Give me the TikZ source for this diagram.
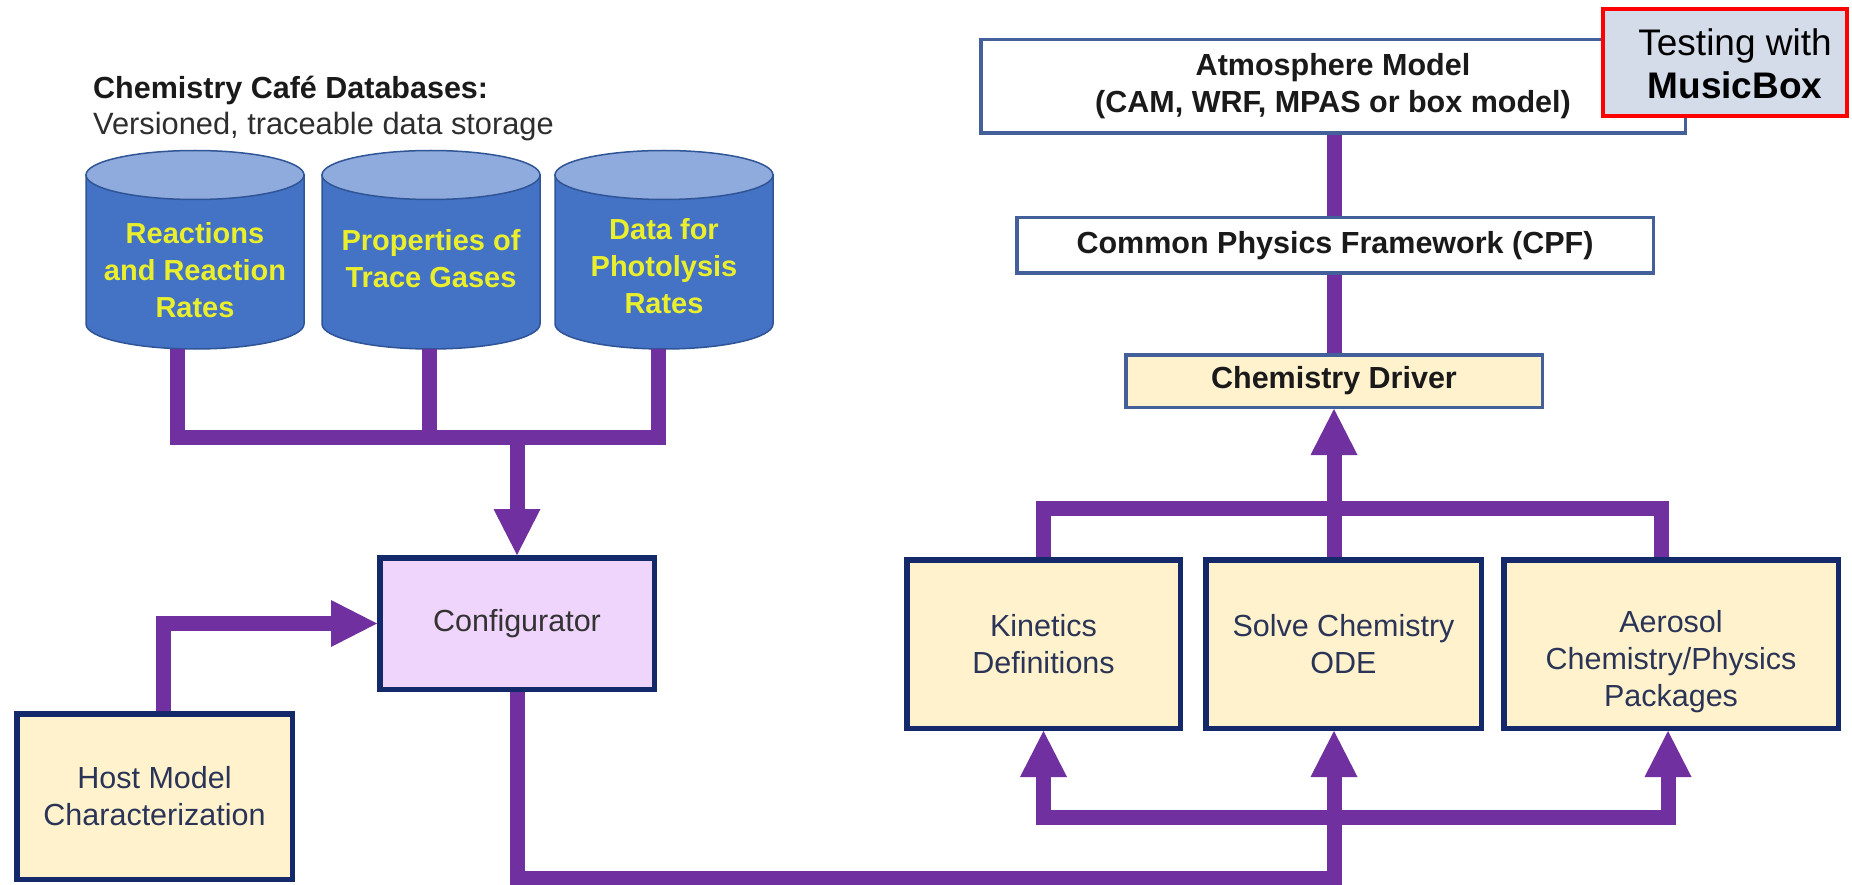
\documentclass[tikz,border=0pt]{standalone}
\usepackage{fontspec}
\setmainfont{Liberation Sans}
\usetikzlibrary{arrows.meta,calc}

\definecolor{flow}{HTML}{7030A0}
\definecolor{navy}{HTML}{13296A}
\definecolor{cream}{HTML}{FFF2CC}
\definecolor{lilac}{HTML}{EFD4FC}
\definecolor{slate}{HTML}{44609A}
\definecolor{steel}{HTML}{D5DCE9}
\definecolor{boxtext}{HTML}{2A3457}
\definecolor{configtext}{HTML}{333333}
\definecolor{ink}{HTML}{1A1A1A}
\definecolor{subgray}{HTML}{2E2E2E}
\definecolor{dbblue}{HTML}{4472C4}
\definecolor{dbtop}{HTML}{8FAADC}
\definecolor{dbedge}{HTML}{2F5597}
\definecolor{dbtext}{HTML}{E9EE2D}
\definecolor{alertred}{HTML}{FF0000}

% database drum: name, centre x, label y, label
\newcommand\dbdrum[4]{%
  \node[drumnode] (#1) at (#2,250) {};
  \filldraw[fill=dbblue, draw=dbedge, line width=1.5pt]
    ({#2-109},175) -- ({#2-109},324)
    arc[start angle=180, end angle=0, x radius=109, y radius=25]
    -- ({#2+109},175) -- cycle;
  \filldraw[fill=dbtop, draw=dbedge, line width=1.5pt]
    (#2,175) ellipse[x radius=109, y radius=24.5];
  \node[drumlabel] (#1t) at (#2,#3) {#4};
}

\begin{document}
\begin{tikzpicture}[x=1pt,y=-1pt,
  every node/.style={font=\fontsize{30.5}{37}\selectfont, align=center, inner sep=0pt},
  drumnode/.style={minimum width=218, minimum height=198},
  drumlabel/.style={font=\bfseries\fontsize{29}{37}\selectfont, text=dbtext},
  flowline/.style={draw=flow, line width=15pt, line join=miter, line cap=butt},
  flowhead/.style={-{Triangle[width=47pt,length=46pt,line width=0pt]}},
  flowheads/.style={{Triangle[width=47pt,length=46pt,line width=0pt]}-{Triangle[width=47pt,length=46pt,line width=0pt]}},
  navybox/.style={draw=navy, line width=5.5pt, fill=cream, text=boxtext,
    minimum width=#1, minimum height=168.5},
  slatebox/.style={draw=slate, line width=3.5pt, fill=white, text=ink,
    font=\bfseries\fontsize{30.5}{37}\selectfont},
  boxlabel/.style={text=boxtext}
]
\fill[white] (0,0) rectangle (1852,885);
\useasboundingbox (0,0) rectangle (1852,885);

% heading of the database group
\node[anchor=base west, font=\bfseries\fontsize{30.5}{37}\selectfont, text=ink]
  (dbtitle) at (93,99) {Chemistry Café Databases:};
\node[anchor=base west, font=\fontsize{30.8}{37}\selectfont, text=subgray]
  (dbsub) at (93,135) {Versioned, traceable data storage};

% databases
\dbdrum{c1}{195}{270}{Reactions\\and Reaction\\Rates}
\dbdrum{c2}{431}{259}{Properties of\\Trace Gases}
\dbdrum{c3}{664}{266}{Data for\\Photolysis\\Rates}

% boxes
\node[navybox=274.5, minimum height=131.5, fill=lilac, text=configtext] (config) at (517,623.5) {Configurator};
\node[navybox=275.5, minimum height=165.5] (host) at (154.5,796.5) {Host Model\\Characterization};
\node[navybox=273.5] (kin) at (1043.5,644) {Kinetics\\Definitions};
\node[navybox=275.5] (solve) at (1343.5,644) {Solve Chemistry\\ODE};
\node[navybox=334.5] (aero) at (1671,644) {};
\node[boxlabel] (aerot) at (1671,662) {Aerosol\\Chemistry/Physics\\Packages};

\node[slatebox, minimum width=704.5, minimum height=93.5] (atmos) at (1333,86.5)
  {Atmosphere Model\\(CAM, WRF, MPAS or box model)};
\node[slatebox, minimum width=636.5, minimum height=55.5] (cpf) at (1335,245.5)
  {Common Physics Framework (CPF)};
\node[slatebox, fill=cream, minimum width=416.5, minimum height=52.5] (driver) at (1334,381)
  {Chemistry Driver};

% testing badge
\node[draw=alertred, line width=4pt, fill=steel, minimum width=244, minimum height=107]
  (mbox) at (1725,62.5) {};
\node[font=\fontsize{37}{43}\selectfont, text=black] (mboxt) at (1735,63.5)
  {Testing with\\\textbf{MusicBox}};

% database feed into the configurator
\coordinate (dbbus) at (517,437);
\draw[flowline] ([xshift=-18pt]c1.south) |- (dbbus) -| ([xshift=-6pt]c3.south);
\draw[flowline] ([xshift=-2pt]c2.south) -- ([xshift=-2pt]c2.south |- dbbus);
\draw[flowline, flowhead] (dbbus) -- (config.north);

% host model into the configurator
\draw[flowline, flowhead] ([xshift=8.5pt]host.north) |- (config.west);

% configurator out to the chemistry packages
\draw[flowline, flowhead] (config.south) -- ++(0,186) -| (driver.south |- solve.south);
\draw[flowline, flowheads] (kin.south) -- ++(0,86) -| ([xshift=-3pt]aero.south);

% packages up to the driver and the host model stack
\draw[flowline] (kin.north) -- ++(0,-49) -| ([xshift=-10pt]aero.north);
\draw[flowline, flowhead] (driver.south |- solve.north) -- (driver.south);
\draw[flowline] (driver.north) -- (driver.north |- cpf.south);
\draw[flowline] (driver.north |- cpf.north) -- (driver.north |- atmos.south);
\end{tikzpicture}
\end{document}
